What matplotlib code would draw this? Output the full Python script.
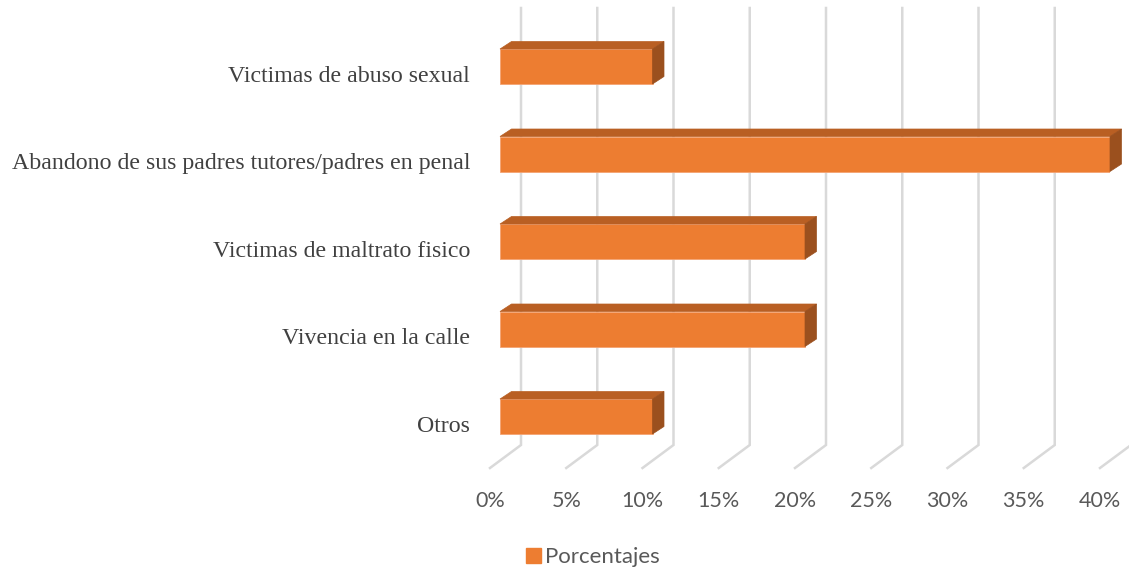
import matplotlib
matplotlib.use("Agg")
import matplotlib.pyplot as plt
from matplotlib.patches import Polygon, Patch
from matplotlib.transforms import offset_copy

# datos
categorias = ["Victimas de abuso sexual",
              "Abandono de sus padres tutores/padres en penal",
              "Victimas de maltrato fisico",
              "Vivencia en la calle",
              "Otros"]
porcentajes = [10, 40, 20, 20, 10]
ticks = [0, 5, 10, 15, 20, 25, 30, 35, 40]
tick_labels = ["0%", "5%", "10%", "15%", "20%", "25%", "30%", "35%", "40%"]
serie = "Porcentajes"

c_frente = "#ED7D31"
c_arriba = "#B95F23"
c_lado = "#9B501E"
c_grid = "#D9D9D9"
c_texto = "#595959"

W, H = 1129, 568
fig = plt.figure(figsize=(W / 100, H / 100), dpi=100)
# eje: 0% -> x=500px, 40% -> x=1110px ; categorias cada 87.5px
ax = fig.add_axes([500 / W, 1 - 460.25 / H, 610 / W, 437.5 / H])
ax.set_xlim(0, 40)
ax.set_ylim(4.5, -0.5)
ax.axis("off")

px_x = 40 / 610.0    # unidades por pixel en x
px_y = 1 / 87.5      # unidades por pixel en y

# profundidad 3D
dx, dy = 11.5 * px_x, -7.5 * px_y
back = 21 * px_x
front = -10 * px_x
y_top = -0.5 + (8 - 22.75) * px_y
y_pared = -0.5 + (445 - 22.75) * px_y
y_suelo = -0.5 + (468 - 22.75) * px_y

# lineas de cuadricula (pared del fondo y suelo)
for v in ticks:
    ax.plot([v + back, v + back, v + front], [y_top, y_pared, y_suelo],
            color=c_grid, lw=1.8, zorder=0, clip_on=False,
            solid_joinstyle="miter")

# etiquetas del eje x
for v, lab in zip(ticks, tick_labels):
    ax.text(v + front, -0.5 + (501 - 22.75) * px_y, lab, ha="center", va="center",
            fontsize=15.5, color=c_texto, family="Lato", clip_on=False)

# barras
alto = 0.4
for i, val in enumerate(porcentajes):
    top = i - alto / 2
    bot = i + alto / 2
    ax.barh(i, val, height=alto, left=0, color=c_frente, edgecolor="#F4A373",
            linewidth=0.6, zorder=3)
    ax.add_patch(Polygon([(0, top), (val, top), (val + dx, top + dy), (dx, top + dy)],
                         closed=True, facecolor=c_arriba, edgecolor=c_arriba,
                         lw=0.5, zorder=3, clip_on=False))
    ax.add_patch(Polygon([(val, top), (val + dx, top + dy), (val + dx, bot + dy), (val, bot)],
                         closed=True, facecolor=c_lado, edgecolor=c_lado,
                         lw=0.5, zorder=3, clip_on=False))

# etiquetas de categorias
tr = offset_copy(ax.transData, fig=fig, x=-30, y=-10, units="dots")
for i, cat in enumerate(categorias):
    ax.text(0, i, cat, transform=tr, ha="right", va="center",
            fontsize=17.2, color="#404040", family="Liberation Serif", clip_on=False)

# leyenda
fig.legend(handles=[Patch(color=c_frente, label=serie)], loc="center",
           bbox_to_anchor=(593 / W, 1 - 557 / H), frameon=False,
           handlelength=0.65, handleheight=0.65, handletextpad=0.2,
           prop={"family": "Lato", "size": 16}, labelcolor=c_texto)

fig.savefig("out.png", dpi=100)
